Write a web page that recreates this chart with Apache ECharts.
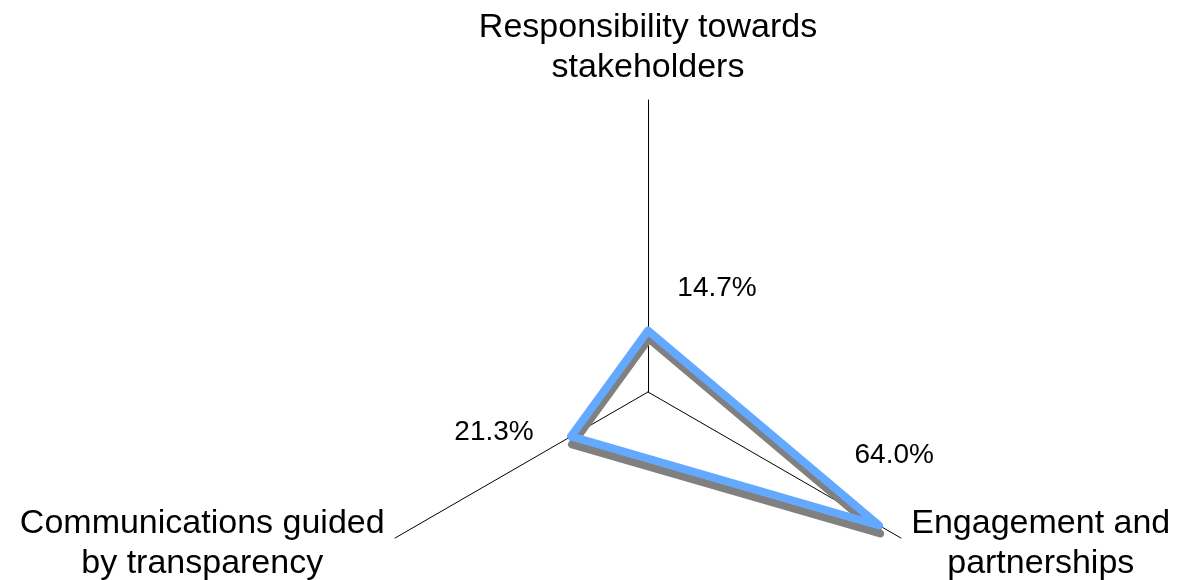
<!DOCTYPE html>
<html>
<head>
<meta charset="utf-8">
<script src="https://cdn.jsdelivr.net/npm/echarts@6.0.0/dist/echarts.min.js"></script>
<style>
  html, body { margin: 0; padding: 0; background: #fff; }
  #radar { width: 1177px; height: 580px; }
</style>
</head>
<body>
<div id="radar"></div>
<script>
// indicators run counter-clockwise from the top
const categories = [
  "Responsibility towards\nstakeholders",
  "Communications guided\nby transparency",
  "Engagement and\npartnerships"
];
const shares = [14.7, 21.3, 64.0];
const axisMax = 70;

const FONT = "Liberation Sans, Arial, sans-serif";
const NAME_SIZE = 34;

const chart = echarts.init(document.getElementById("radar"));

// lines of each axis name are centred on each other, so give every name a box
// as wide as its longest line
const ctx = document.createElement("canvas").getContext("2d");
ctx.font = NAME_SIZE + "px " + FONT;
const nameRich = {};
categories.forEach((name, i) => {
  const w = Math.max(...name.split("\n").map((l) => ctx.measureText(l).width));
  nameRich["n" + i] = {
    width: Math.ceil(w),
    align: "center",
    color: "#000",
    fontFamily: FONT,
    fontSize: NAME_SIZE,
    lineHeight: 40
  };
});

// where each value label sits relative to its vertex (Excel-style manual placement)
const labelOffsets = [[69, -42], [-77, -4], [15, -70]];

const labelSeries = labelOffsets.map((off, k) => ({
  type: "radar",
  silent: true,
  symbol: "circle",
  symbolSize: 1,
  itemStyle: { color: "rgba(0,0,0,0)" },
  lineStyle: { opacity: 0 },
  label: {
    show: true,
    position: "inside",
    offset: off,
    color: "#000",
    fontFamily: FONT,
    fontSize: 28,
    formatter(p) {
      return p.dimensionIndex === k ? Number(p.value).toFixed(1) + "%" : "";
    }
  },
  data: [{ value: shares }]
}));

const option = {
  animation: false,
  backgroundColor: "#fff",
  radar: {
    center: [648, 392],
    radius: 292,
    startAngle: 90,
    splitNumber: 1,
    indicator: categories.map((name) => ({ name, max: axisMax, min: 0 })),
    axisName: {
      color: "#000",
      fontFamily: FONT,
      fontSize: NAME_SIZE,
      lineHeight: 40,
      formatter: (name) => "{n" + categories.indexOf(name) + "|" + name + "}",
      rich: nameRich
    },
    axisNameGap: 12,
    axisLine: { lineStyle: { color: "#000", width: 1 } },
    splitLine: { show: false },
    splitArea: { show: false },
    axisTick: { show: false },
    axisLabel: { show: false }
  },
  series: [
    {
      type: "radar",
      symbol: "none",
      lineStyle: {
        color: "#63A9FF",
        width: 8,
        cap: "round",
        join: "round",
        shadowColor: "#808080",
        shadowBlur: 0,
        shadowOffsetX: 1,
        shadowOffsetY: 8
      },
      data: [{ value: shares }]
    },
    ...labelSeries
  ]
};

chart.setOption(option);
</script>
</body>
</html>
